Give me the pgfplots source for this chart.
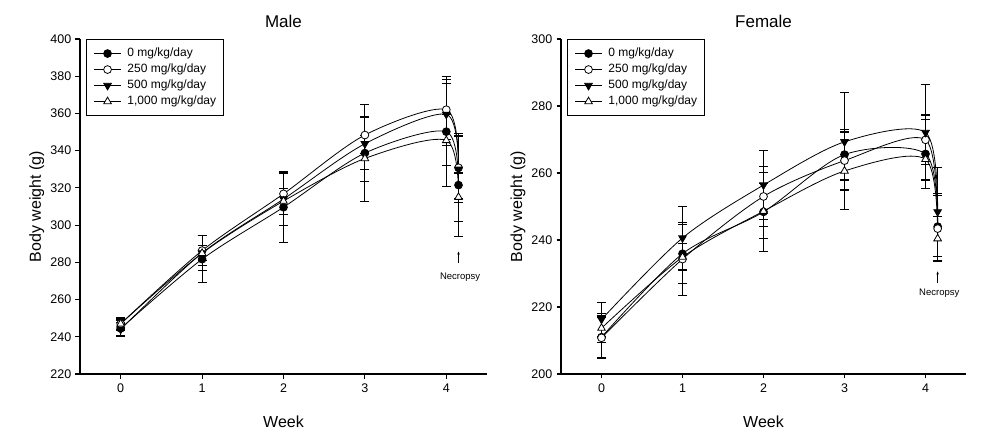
\documentclass[border=0pt]{standalone}
\usepackage{fontspec}
\setmainfont{Liberation Sans}
\usepackage{pgfplots}
\pgfplotsset{compat=1.18}
\usetikzlibrary{arrows.meta}

% common look of both panels
\pgfplotsset{
  bw/.style={
    scale only axis, height=335bp,
    anchor=south west,
    xmin=-0.5, xmax=4.5, xtick={0,1,2,3,4},
    axis x line=bottom, axis y line=left,
    axis line style={-, line width=1.1bp},
    tick align=outside, major tick length=4.5bp,
    tick style={line width=1.1bp, black},
    /pgf/number format/assume math mode=true,
    ticklabel style={font=\fontsize{12.5bp}{14bp}\selectfont},
    yticklabel style={inner xsep=4bp},
    xticklabel style={inner ysep=5.5bp},
    title style={font=\fontsize{17bp}{19bp}\selectfont, anchor=base, at={([yshift=5.5bp]axis description cs:0.5,1)}},
    xlabel style={font=\fontsize{16bp}{18bp}\selectfont, anchor=base, at={([yshift=-53bp]axis description cs:0.5,0)}},
    ylabel style={font=\fontsize{16bp}{18bp}\selectfont, anchor=base, at={([xshift=-39bp]axis description cs:0,0.5)}},
    ylabel={Body weight (g)}, xlabel={Week},
    legend cell align=left,
    legend style={at={(0.015,1)}, anchor=north west, draw=black, line width=1.1bp,
      inner xsep=7bp, inner ysep=8bp, row sep=4bp,
      font=\fontsize{12bp}{14bp}\selectfont,
      nodes={inner sep=0pt, text height=9bp, text depth=3bp},
      /tikz/every odd column/.append style={column sep=6bp}},
    legend image code/.code={
      \draw[mark repeat=2, mark phase=2, #1] plot coordinates {(0bp,0bp) (13.5bp,0bp) (27bp,0bp)};},
    every axis plot/.append style={line width=0.8bp, smooth,
      error bars/y dir=both, error bars/y explicit,
      error bars/error bar style={line width=1.1bp, black},
      error bars/error mark options={rotate=90, mark size=4.5bp, line width=1.1bp, black}},
  },
  d0/.style={black, mark=*, mark size=3.9bp, mark options={draw=black, fill=black, line width=0.8bp}},
  d250/.style={black, mark=*, mark size=3.9bp, mark options={draw=black, fill=white, line width=0.8bp}},
  d500/.style={black, mark=triangle*, mark size=4.4bp, mark options={draw=black, fill=black, rotate=180, line width=0.8bp}},
  d1000/.style={black, mark=triangle*, mark size=4.4bp, mark options={draw=black, fill=white, line width=0.8bp}},
}

\begin{document}
\begin{tikzpicture}
\useasboundingbox (0,0) rectangle (998bp,446bp);

% ---------------- Male ----------------
\begin{axis}[bw, at={(80bp,72bp)}, width=407bp,
  ymin=220, ymax=400, ytick={220,240,...,400}, title={Male}]
\addplot[d0] coordinates {
  (0,244.5) +- (0,4.5) (1,281.7) +- (0,12.5) (2,309.6) +- (0,19) (3,338.7) +- (0,26) (4,350.2) +- (0,29.5) (4.15,321.5) +- (0,27.5)};
\addlegendentry{0 mg/kg/day}
\addplot[d250] coordinates {
  (0,247) +- (0,3.5) (1,286.3) +- (0,8) (2,316.8) +- (0,11) (3,348.4) +- (0,10) (4,362) +- (0,16) (4.15,330.8) +- (0,16.6)};
\addlegendentry{250 mg/kg/day}
\addplot[d500] coordinates {
  (0,244) +- (0,3.5) (1,285) +- (0,9.5) (2,314) +- (0,14) (3,343.7) +- (0,14) (4,359.5) +- (0,16.5) (4.15,330) +- (0,18)};
\addlegendentry{500 mg/kg/day}
\addplot[d1000] coordinates {
  (0,247) +- (0,3) (1,284.9) +- (0,4) (2,312.9) +- (0,7) (3,335.8) +- (0,12.5) (4,345.5) +- (0,13.7) (4.15,315) +- (0,13)};
\addlegendentry{1,000 mg/kg/day}
\draw[-{Stealth[length=3bp,width=2.5bp]}, line width=0.6bp] (axis cs:4.15,279.6) -- (axis cs:4.15,285.8);
\node[font=\fontsize{9.5bp}{11bp}\selectfont] at (axis cs:4.17,272) {Necropsy};
\end{axis}

% ---------------- Female ----------------
\begin{axis}[bw, at={(561bp,72bp)}, width=405bp,
  ymin=200, ymax=300, ytick={200,220,...,300}, title={Female}]
\addplot[d0] coordinates {
  (0,211) +- (0,6.3) (1,235.9) +- (0,8.8) (2,248.4) +- (0,11.7) (3,265.5) +- (0,7.6) (4,265.7) +- (0,10.4) (4.15,244) +- (0,10)};
\addlegendentry{0 mg/kg/day}
\addplot[d250] coordinates {
  (0,210.8) +- (0,6) (1,234.3) +- (0,11) (2,253) +- (0,9) (3,263.7) +- (0,8.6) (4,269.9) +- (0,7.4) (4.15,243.4) +- (0,9.8)};
\addlegendentry{250 mg/kg/day}
\addplot[d500] coordinates {
  (0,216.3) +- (0,5) (1,240.6) +- (0,9.4) (2,256.4) +- (0,10.3) (3,269.3) +- (0,14.6) (4,272.1) +- (0,14.4) (4.15,248.4) +- (0,13.3)};
\addlegendentry{500 mg/kg/day}
\addplot[d1000] coordinates {
  (0,213.7) +- (0,4.4) (1,234.9) +- (0,4) (2,248.6) +- (0,8.2) (3,260.6) +- (0,11.4) (4,264.1) +- (0,6) (4.15,240.4) +- (0,6.5)};
\addlegendentry{1,000 mg/kg/day}
\draw[-{Stealth[length=3bp,width=2.5bp]}, line width=0.6bp] (axis cs:4.15,227.2) -- (axis cs:4.15,230.6);
\node[font=\fontsize{9.5bp}{11bp}\selectfont] at (axis cs:4.17,224.2) {Necropsy};
\end{axis}
\end{tikzpicture}
\end{document}
